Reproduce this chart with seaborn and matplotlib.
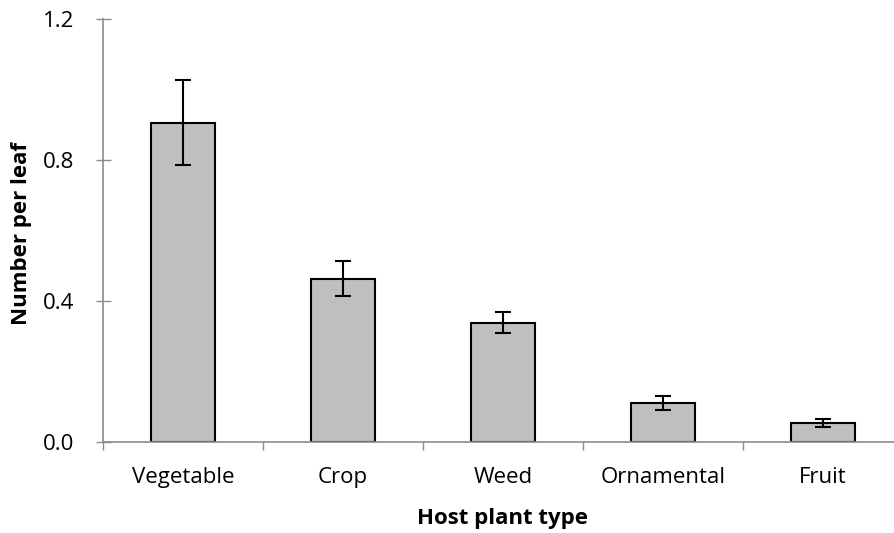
import matplotlib
matplotlib.use("Agg")
import matplotlib.pyplot as plt
import seaborn as sns
import pandas as pd
import numpy as np

categories = ["Vegetable", "Crop", "Weed", "Ornamental", "Fruit"]
means = [0.905, 0.463, 0.338, 0.110, 0.054]
errors = [0.120, 0.050, 0.030, 0.020, 0.011]
y_ticks = [0.0, 0.4, 0.8, 1.2]
y_tick_labels = ["0.0", "0.4", "0.8", "1.2"]

sns.set_theme(style="white")
plt.rcParams["font.family"] = ["Open Sans", "DejaVu Sans"]

df = pd.DataFrame({"type": categories, "value": means})

fig = plt.figure(figsize=(8.94, 5.33), dpi=100)
W, H = 894, 533
left, right, bottom, top = 103, 903, 442, 18.7
ax = fig.add_axes([left / W, 1 - bottom / H, (right - left) / W, (bottom - top) / H])

sns.barplot(data=df, x="type", y="value", order=categories, color="#BFBFBF",
            saturation=1, width=0.4, edgecolor="black", linewidth=1.5,
            errorbar=None, ax=ax)
ax.errorbar(np.arange(len(categories)), means, yerr=errors, fmt="none",
            ecolor="black", elinewidth=1.5, capsize=6, capthick=1.5, zorder=5)

ax.set_xlim(-0.5, len(categories) - 0.5)
ax.set_ylim(0, 1.2)
ax.set_yticks(y_ticks)
ax.set_yticklabels(y_tick_labels)

fs = 16

# category boundary ticks (major), labels at centers (minor)
ax.set_xticks(np.arange(-0.5, len(categories) + 0.5, 1.0))
ax.set_xticklabels([""] * (len(categories) + 1))
ax.set_xticks(np.arange(len(categories)), minor=True)
ax.set_xticklabels(categories, minor=True)
ax.tick_params(axis="x", which="major", direction="out", length=5.8, width=1,
               color="#8C8C8C", bottom=True)
ax.tick_params(axis="x", which="minor", length=0, pad=18, labelsize=fs,
               labelcolor="black", bottom=True)
ax.tick_params(axis="y", which="major", direction="inout", length=10.8, width=1,
               color="#8C8C8C", left=True, pad=15, labelsize=fs, labelcolor="black")

for s in ["top", "right"]:
    ax.spines[s].set_visible(False)
for s in ["left", "bottom"]:
    ax.spines[s].set_color("#8C8C8C")
    ax.spines[s].set_linewidth(1.2)

ax.set_xlabel("")
ax.set_ylabel("")
fig.text(503 / W, 1 - 524 / H, "Host plant type", ha="center", va="baseline",
         fontsize=fs, fontweight="bold", color="black")
fig.text(22 / W, 1 - 234 / H, "Number per leaf", ha="center", va="center",
         rotation=90, fontsize=fs, fontweight="bold", color="black")

fig.savefig("out.png", dpi=100)
